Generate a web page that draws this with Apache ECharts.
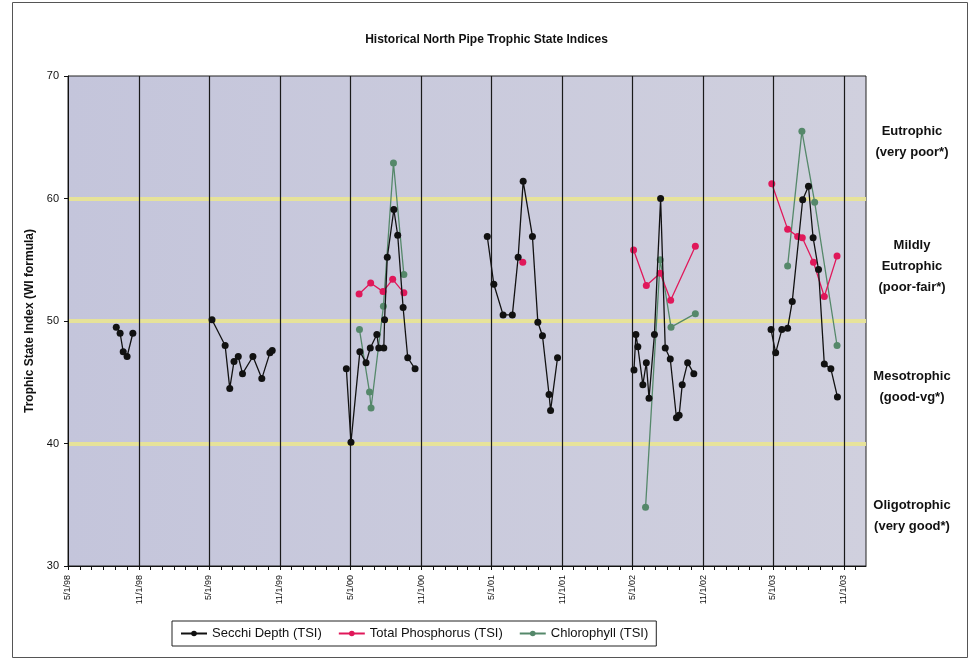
<!DOCTYPE html>
<html><head><meta charset="utf-8">
<script src="https://cdn.jsdelivr.net/npm/echarts@6/dist/echarts.min.js"></script>
<style>html,body{margin:0;padding:0;background:#fff}#c{width:973px;height:670px}</style>
</head><body><div id="c"></div>
<script>
// ---- data ----
const tickLabels = ['5/1/98','11/1/98','5/1/99','11/1/99','5/1/00','11/1/00','5/1/01','11/1/01','5/1/02','11/1/02','5/1/03','11/1/03'];
const tickDates  = ['1998-05-01','1998-11-01','1999-05-01','1999-11-01','2000-05-01','2000-11-01','2001-05-01','2001-11-01','2002-05-01','2002-11-01','2003-05-01','2003-11-01'];
const yTicks = [30, 40, 50, 60, 70];

const secchiDates = [
 '1998-09-03','1998-09-13','1998-09-21','1998-10-01','1998-10-16',
 '1999-01-15',
 '1999-05-09','1999-06-12','1999-06-24','1999-07-05','1999-07-16','1999-07-27','1999-08-23','1999-09-15','1999-10-06','1999-10-12',
 '2000-01-15',
 '2000-04-21','2000-05-03','2000-05-26','2000-06-11','2000-06-22','2000-07-09','2000-07-14','2000-07-27','2000-07-29','2000-08-05','2000-08-22','2000-09-01','2000-09-15','2000-09-27','2000-10-16',
 '2001-01-15',
 '2001-04-21','2001-05-08','2001-06-01','2001-06-25','2001-07-10','2001-07-23','2001-08-16','2001-08-30','2001-09-11','2001-09-28','2001-10-02','2001-10-20',
 '2002-01-15',
 '2002-05-06','2002-05-11','2002-05-16','2002-05-29','2002-06-07','2002-06-14','2002-06-28','2002-07-14','2002-07-26','2002-08-08','2002-08-24','2002-08-31','2002-09-08','2002-09-22','2002-10-08',
 '2003-01-15',
 '2003-04-26','2003-05-08','2003-05-24','2003-06-08','2003-06-20','2003-07-17','2003-08-01','2003-08-13','2003-08-27','2003-09-11','2003-09-28','2003-10-15'
];
const secchiTSI = [
 49.5,49.0,47.5,47.1,49.0,
 null,
 50.1,48.0,44.5,46.7,47.1,45.7,47.1,45.3,47.4,47.6,
 null,
 46.1,40.1,47.5,46.6,47.8,48.9,47.8,47.8,50.1,55.2,59.1,57.0,51.1,47.0,46.1,
 null,
 56.9,53.0,50.5,50.5,55.2,61.4,56.9,49.9,48.8,44.0,42.7,47.0,
 null,
 46.0,48.9,47.9,44.8,46.6,43.7,48.9,60.0,47.8,46.9,42.1,42.3,44.8,46.6,45.7,
 null,
 49.3,47.4,49.3,49.4,51.6,59.9,61.0,56.8,54.2,46.5,46.1,43.8
];

const phosDates = [
 '2000-05-24','2000-06-23','2000-07-25','2000-08-19','2000-09-17',
 '2001-01-15',
 '2001-07-22',
 '2002-01-15',
 '2002-05-05','2002-06-07','2002-07-13','2002-08-09','2002-10-12',
 '2003-01-15',
 '2003-04-28','2003-06-08','2003-07-04','2003-07-16','2003-08-14','2003-09-11','2003-10-14'
];
const phosTSI = [
 52.2,53.1,52.4,53.4,52.3,
 null,
 54.8,
 null,
 55.8,52.9,53.9,51.7,56.1,
 null,
 61.2,57.5,56.9,56.8,54.8,52.0,55.3
];

const chlDates = [
 '2000-05-25','2000-06-20','2000-06-24','2000-07-26','2000-08-21','2000-09-17',
 '2001-06-01',
 '2002-06-05','2002-07-13','2002-08-10','2002-10-12',
 '2003-01-15',
 '2003-06-08','2003-07-15','2003-08-17','2003-10-14'
];
const chlTSI = [
 49.3,44.2,42.9,51.2,62.9,53.8,
 null,
 34.8,55.0,49.5,50.6,
 null,
 54.5,65.5,59.7,48.0
];

const seriesNames = ['Secchi Depth (TSI)', 'Total Phosphorus (TSI)', 'Chlorophyll (TSI)'];
const zoneLabels = [
  {text: 'Eutrophic\n(very poor*)', y: 142},
  {text: 'Mildly\nEutrophic\n(poor-fair*)', y: 266},
  {text: 'Mesotrophic\n(good-vg*)', y: 387},
  {text: 'Oligotrophic\n(very good*)', y: 516}
];

// ---- helpers ----
function ts(s){ const p = s.split('-'); return Date.UTC(+p[0], +p[1]-1, +p[2]); }
function pairs(d, v){ return d.map((x, i) => [ts(x), v[i]]); }
const tickTs = tickDates.map(ts);
const monthTicks = [];
for (let y = 1998; y <= 2003; y++) for (let m = 0; m < 12; m++) {
  const t = Date.UTC(y, m, 1);
  if (t >= ts('1998-05-01') && t <= ts('2003-12-01')) monthTicks.push(t);
}
const FONT = '"Liberation Sans", Arial, Helvetica, sans-serif';

const chart = echarts.init(document.getElementById('c'), null, {renderer: 'canvas'});

function lineSeries(name, data, color, z){
  return {
    name, type: 'line', data, z,
    connectNulls: false,
    showAllSymbol: true,
    symbol: 'circle', symbolSize: 7,
    lineStyle: {color, width: 1.3},
    itemStyle: {color, borderWidth: 0},
    emphasis: {disabled: true}
  };
}

const option = {
  animation: false,
  backgroundColor: '#ffffff',
  title: {
    text: 'Historical North Pipe Trophic State Indices',
    left: 'center', top: 29,
    textStyle: {fontFamily: FONT, fontSize: 12, fontWeight: 'bold', color: '#111'}
  },
  legend: {
    data: seriesNames,
    left: 172, top: 621,
    padding: [6, 8],
    itemGap: 16, itemWidth: 26, itemHeight: 7,
    borderColor: '#222', borderWidth: 1,
    textStyle: {fontFamily: FONT, fontSize: 13, color: '#111'}
  },
  grid: {
    left: 68, top: 76, width: 798, height: 490,
    show: true,
    backgroundColor: new echarts.graphic.LinearGradient(0, 0, 1, 0, [
      {offset: 0, color: '#c4c5db'}, {offset: 1, color: '#d0d0de'}
    ]),
    borderColor: '#222', borderWidth: 1
  },
  xAxis: {
    type: 'value',
    min: ts('1998-05-01'), max: ts('2003-12-28'),
    axisLine: {show: true, onZero: false, lineStyle: {color: '#111', width: 1}},
    axisTick: {show: true, customValues: monthTicks, length: 4, lineStyle: {color: '#111'}},
    axisLabel: {
      customValues: tickTs, rotate: 90, margin: 9,
      fontFamily: FONT, fontSize: 9, color: '#111', hideOverlap: false,
      formatter: function(v){
        let best = 0, bd = Infinity;
        tickTs.forEach((t, i) => { const d = Math.abs(t - v); if (d < bd){ bd = d; best = i; } });
        return tickLabels[best];
      }
    },
    splitLine: {show: false}
  },
  yAxis: {
    type: 'value', min: yTicks[0], max: yTicks[yTicks.length-1], interval: 10,
    name: 'Trophic State Index (WI formula)',
    nameLocation: 'middle', nameGap: 27,
    nameTextStyle: {fontFamily: FONT, fontSize: 12, fontWeight: 'bold', color: '#111'},
    axisLine: {show: true, lineStyle: {color: '#111', width: 1}},
    axisTick: {show: true, length: 4, lineStyle: {color: '#111'}},
    axisLabel: {fontFamily: FONT, fontSize: 11, color: '#111', margin: 9},
    splitLine: {show: true, showMinLine: false, showMaxLine: false,
      lineStyle: {color: 'rgba(232,228,150,0.95)', width: 4}}
  },
  graphic: [
    {type: 'rect', silent: true, z: -10,
     shape: {x: 12.5, y: 2.5, width: 955, height: 655},
     style: {fill: null, stroke: '#555', lineWidth: 1}}
  ].concat(zoneLabels.map(z => ({
    type: 'text', silent: true, x: 912, y: z.y,
    style: {text: z.text, fill: '#111', font: 'bold 13px ' + FONT,
            textAlign: 'center', textVerticalAlign: 'middle', lineHeight: 21}
  }))),
  series: [
    {
      name: 'dates', type: 'line', data: [[ts('1998-05-01'), null]], z: 1,
      symbol: 'none', silent: true,
      markLine: {
        silent: true, symbol: ['none', 'none'], label: {show: false},
        lineStyle: {color: '#1a1a1a', width: 1.2, type: 'solid'},
        emphasis: {disabled: true},
        data: tickTs.slice(1).map(t => ({xAxis: t}))
      }
    },
    lineSeries(seriesNames[0], pairs(secchiDates, secchiTSI), '#111111', 5),
    lineSeries(seriesNames[1], pairs(phosDates, phosTSI), '#e0185a', 4),
    lineSeries(seriesNames[2], pairs(chlDates, chlTSI), '#55886a', 3)
  ]
};
chart.setOption(option);
</script>
</body></html>
